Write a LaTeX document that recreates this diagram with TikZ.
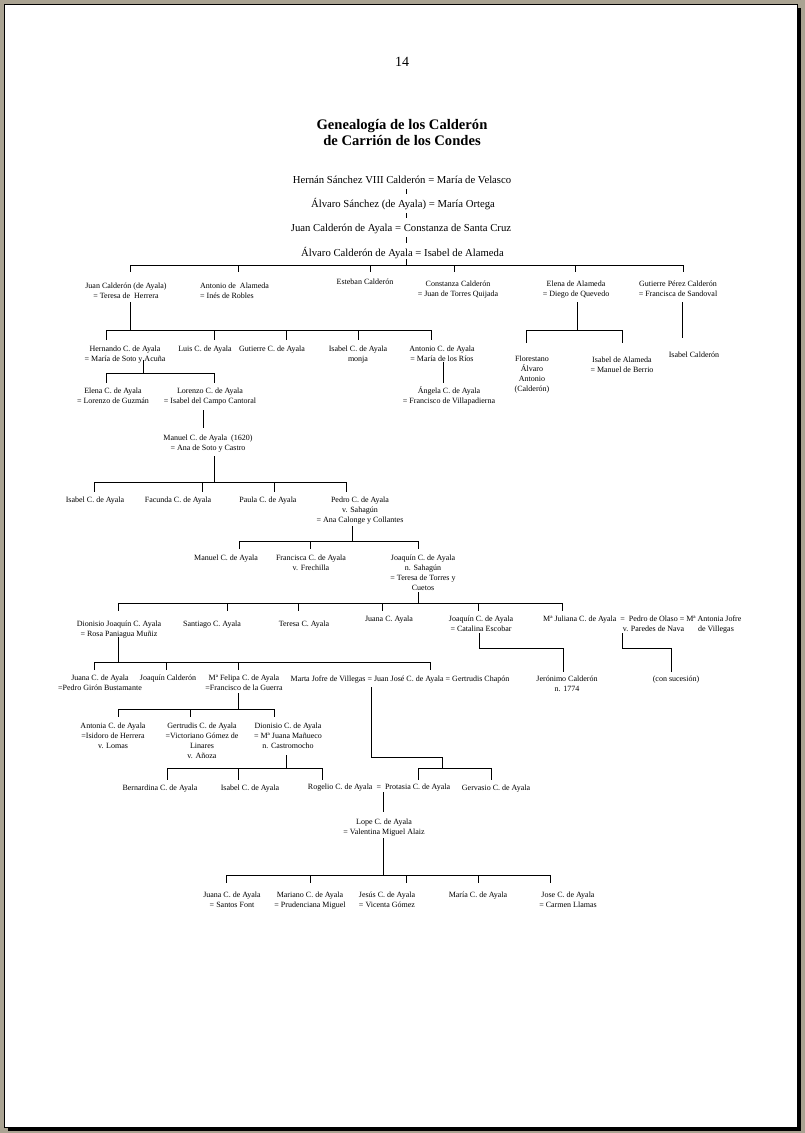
\documentclass[tikz,border=0pt]{standalone}
\usepackage{fontspec}
\setmainfont{Liberation Serif}
\newcommand\sfn{\fontsize{8}{10}\selectfont}
\newcommand\bfn{\fontsize{10.7}{13}\selectfont}
\newcommand\tfn{\fontsize{14.6}{16}\selectfont}
\newcommand\pfn{\fontsize{14}{16}\selectfont}
\definecolor{bgc}{RGB}{170,163,146}
\begin{document}
\begin{tikzpicture}[x=1pt,y=-1pt,
  ln/.style={line width=0.8pt, black},
  p/.style={font=\sfn, align=center, inner sep=0pt, anchor=north, execute at begin node=\strut},
  m/.style={p, yshift=-2pt},
  pl/.style={p, align=left, anchor=north west},
  big/.style={font=\bfn, inner sep=0pt, anchor=base},
  ttl/.style={font=\tfn\bfseries, inner sep=0pt, anchor=base}]
\useasboundingbox (0,0) rectangle (805,1133);
% page
\fill[bgc] (0,0) rectangle (805,1133);
\fill[black] (8,8) rectangle (801,1131);
\filldraw[fill=white, draw=black, line width=1pt] (4,4) rectangle (797,1127);
% header
\node[font=\pfn, inner sep=0pt, anchor=base] (pnum) at (402,66) {14};
\node[ttl] (title1) at (402,129.5) {Genealogía de los Calderón};
\node[ttl] (title2) at (402,145.5) {de Carrión de los Condes};
% main line
\node[big] (t1) at (402,183.5) {Hernán Sánchez VIII Calderón = María de Velasco};
\node[big] (t2) at (403,207.5) {Álvaro Sánchez (de Ayala) = María Ortega};
\node[big] (t3) at (401,231.5) {Juan Calderón de Ayala = Constanza de Santa Cruz};
\node[big] (t4) at (402.5,256.5) {Álvaro Calderón de Ayala = Isabel de Alameda};
% level 1
\node[m] (juan) at (126,281) {Juan Calderón (de Ayala)\\= Teresa de\ \ Herrera};
\node[pl, yshift=-2pt] (antonio) at (200,281) {Antonio de\ \ Alameda\\= Inés de Robles};
\node[p] (esteban) at (365,277) {Esteban Calderón};
\node[m] (constanza) at (458,279) {Constanza Calderón\\= Juan de Torres Quijada};
\node[m] (elena) at (576,279) {Elena de Alameda\\= Diego de Quevedo};
\node[m] (gutierre) at (678,279) {Gutierre Pérez Calderón\\= Francisca de Sandoval};
% level 2
\node[m] (hernando) at (125,344) {Hernando C. de Ayala\\= María de Soto y Acuña};
\node[p] (luis) at (205,344) {Luis C. de Ayala};
\node[p] (gutierre2) at (272,344) {Gutierre C. de Ayala};
\node[m] (isabel2) at (358,344) {Isabel C. de Ayala\\monja};
\node[m] (antonio2) at (442,344) {Antonio C. de Ayala\\= María de los Ríos};
\node[m] (florestano) at (532,354) {Florestano\\Álvaro\\Antonio\\(Calderón)};
\node[m] (isabelA) at (622,355) {Isabel de Alameda\\= Manuel de Berrio};
\node[p] (isabelC) at (694,350) {Isabel Calderón};
\node[p] (angela) at (449,386) {Ángela C. de Ayala\\= Francisco de Villapadierna};
\node[m] (elenaC) at (113,386) {Elena C. de Ayala\\= Lorenzo de Guzmán};
\node[m] (lorenzo) at (210,386) {Lorenzo C. de Ayala\\= Isabel del Campo Cantoral};
\node[m] (manuel) at (208,433) {Manuel C. de Ayala\ \ (1620)\\= Ana de Soto y Castro};
\node[p] (isabel3) at (95,495) {Isabel C. de Ayala};
\node[p] (facunda) at (178,495) {Facunda C. de Ayala};
\node[p] (paula) at (268,495) {Paula C. de Ayala};
\node[m] (pedro) at (360,495) {Pedro C. de Ayala\\v. Sahagún\\= Ana Calonge y Collantes};
\node[p] (manuel2) at (226,553) {Manuel C. de Ayala};
\node[m] (francisca) at (311,553) {Francisca C. de Ayala\\v. Frechilla};
\node[m] (joaquin) at (423,553) {Joaquín C. de Ayala\\n. Sahagún\\= Teresa de Torres y\\Cuetos};
\node[m] (dionisio) at (119,619) {Dionisio Joaquín C. Ayala\\= Rosa Paniagua Muñiz};
\node[p] (santiago) at (212,619) {Santiago C. Ayala};
\node[p] (teresa) at (304,619) {Teresa C. Ayala};
\node[p] (juana) at (389,614) {Juana C. Ayala};
\node[m] (joaquin2) at (481,614) {Joaquín C. de Ayala\\= Catalina Escobar};
\node[pl] (juliana) at (543,614) {Mª Juliana C. de Ayala\ \ =\ \ Pedro de Olaso = Mª Antonia Jofre};
\node[p] (olaso) at (653.5,624) {v. Paredes de Nava};
\node[p] (villegas) at (716,624) {de Villegas};
\node[m] (jeronimo) at (567,674) {Jerónimo Calderón\\n. 1774};
\node[p] (consuc) at (676,674) {(con sucesión)};
\node[m] (juana2) at (100,673) {Juana C. de Ayala\\=Pedro Girón Bustamante};
\node[p] (joaquinCal) at (168,673) {Joaquín Calderón};
\node[m] (felipa) at (244,673) {Mª Felipa C. de Ayala\\=Francisco de la Guerra};
\node[p] (juanjose) at (400,674) {Marta Jofre de Villegas = Juan José C. de Ayala = Gertrudis Chapón};
\node[m] (antonia2) at (113,721) {Antonia C. de Ayala\\=Isidoro de Herrera\\v. Lomas};
\node[m] (gertrudis) at (202,721) {Gertrudis C. de Ayala\\=Victoriano Gómez de\\Linares\\v. Añoza};
\node[m] (dionisio2) at (288,721) {Dionisio C. de Ayala\\= Mª Juana Mañueco\\n. Castromocho};
\node[p] (bernardina) at (160,783) {Bernardina C. de Ayala};
\node[p] (isabel4) at (250,783) {Isabel C. de Ayala};
\node[p] (rogelio) at (379,782) {Rogelio C. de Ayala\ \ =\ \ Protasia C. de Ayala};
\node[p] (gervasio) at (496,783) {Gervasio C. de Ayala};
\node[m] (lope) at (384,817) {Lope C. de Ayala\\= Valentina Miguel Alaiz};
\node[m] (juana3) at (232,890) {Juana C. de Ayala\\= Santos Font};
\node[m] (mariano) at (310,890) {Mariano C. de Ayala\\= Prudenciana Miguel};
\node[m] (jesus) at (387,890) {Jesús C. de Ayala\\= Vicenta Gómez};
\node[p] (maria) at (478,890) {María C. de Ayala};
\node[m] (jose) at (568,890) {Jose C. de Ayala\\= Carmen Llamas};
% ---- connectors ----
% main line ticks
\coordinate (k1a) at (406,189); \coordinate (k1b) at (406,194);
\coordinate (k2a) at (406,213); \coordinate (k2b) at (406,218);
\coordinate (k3a) at (406,237); \coordinate (k3b) at (406,243);
\coordinate (k4a) at (406,259);
\draw[ln] (k1a) -- (k1b); \draw[ln] (k2a) -- (k2b); \draw[ln] (k3a) -- (k3b);
% level 1
\coordinate (b1) at (0,265);
\coordinate (juan-in) at (130,272); \coordinate (antonio-in) at (238,272);
\coordinate (esteban-in) at (370,272); \coordinate (constanza-in) at (454,272);
\coordinate (elena-in) at (575,272); \coordinate (gutierre-in) at (683,272);
\draw[ln] (k4a) -- (k4a |- b1);
\draw[ln] (juan-in |- b1) -- (gutierre-in |- b1);
\foreach \c in {juan,antonio,esteban,constanza,elena,gutierre} \draw[ln] (\c-in |- b1) -- (\c-in);
% Juan's children
\coordinate (juan-out) at (130,302); \coordinate (b2) at (0,330);
\coordinate (hernando-in) at (106,340); \coordinate (luis-in) at (214,340);
\coordinate (gutierre2-in) at (286,340); \coordinate (isabel2-in) at (358,340);
\coordinate (antonio2-in) at (431,340);
\draw[ln] (juan-out) -- (juan-out |- b2);
\draw[ln] (hernando-in |- b2) -- (antonio2-in |- b2);
\foreach \c in {hernando,luis,gutierre2,isabel2,antonio2} \draw[ln] (\c-in |- b2) -- (\c-in);
% Elena's children
\coordinate (elena-out) at (577,302);
\coordinate (florestano-in) at (526,343); \coordinate (isabelA-in) at (622,343);
\draw[ln] (elena-out) -- (elena-out |- b2);
\draw[ln] (florestano-in |- b2) -- (isabelA-in |- b2);
\foreach \c in {florestano,isabelA} \draw[ln] (\c-in |- b2) -- (\c-in);
% Gutierre
\coordinate (gutierre-out) at (682,302); \coordinate (isabelC-in) at (682,338);
\draw[ln] (gutierre-out) -- (isabelC-in);
% Antonio C.
\coordinate (antonio2-out) at (443,362); \coordinate (angela-in) at (443,383);
\draw[ln] (antonio2-out) -- (angela-in);
% Hernando
\coordinate (hernando-out) at (143,360); \coordinate (b3) at (0,373);
\coordinate (elenaC-in) at (106,383); \coordinate (lorenzo-in) at (214,383);
\draw[ln] (hernando-out) -- (hernando-out |- b3);
\draw[ln] (elenaC-in |- b3) -- (lorenzo-in |- b3);
\foreach \c in {elenaC,lorenzo} \draw[ln] (\c-in |- b3) -- (\c-in);
% Lorenzo
\coordinate (lorenzo-out) at (203,410); \coordinate (manuel-in) at (203,428);
\draw[ln] (lorenzo-out) -- (manuel-in);
% Manuel
\coordinate (manuel-out) at (214,456); \coordinate (b4) at (0,482);
\coordinate (isabel3-in) at (94,492); \coordinate (facunda-in) at (202,492);
\coordinate (paula-in) at (274,492); \coordinate (pedro-in) at (346,492);
\draw[ln] (manuel-out) -- (manuel-out |- b4);
\draw[ln] (isabel3-in |- b4) -- (pedro-in |- b4);
\foreach \c in {isabel3,facunda,paula,pedro} \draw[ln] (\c-in |- b4) -- (\c-in);
% Pedro
\coordinate (pedro-out) at (352,526); \coordinate (b5) at (0,541);
\coordinate (manuel2-in) at (239,549); \coordinate (francisca-in) at (310,549);
\coordinate (joaquin-in) at (418,549);
\draw[ln] (pedro-out) -- (pedro-out |- b5);
\draw[ln] (manuel2-in |- b5) -- (joaquin-in |- b5);
\foreach \c in {manuel2,francisca,joaquin} \draw[ln] (\c-in |- b5) -- (\c-in);
% Joaquin
\coordinate (joaquin-out) at (418,592); \coordinate (b6) at (0,603);
\coordinate (dionisio-in) at (118,611); \coordinate (santiago-in) at (227,611);
\coordinate (teresa-in) at (298,611); \coordinate (juana-in) at (382,611);
\coordinate (joaquin2-in) at (478,611); \coordinate (juliana-in) at (562,611);
\draw[ln] (joaquin-out) -- (joaquin-out |- b6);
\draw[ln] (dionisio-in |- b6) -- (juliana-in |- b6);
\foreach \c in {dionisio,santiago,teresa,juana,joaquin2,juliana} \draw[ln] (\c-in |- b6) -- (\c-in);
% Joaquin2 -> Jeronimo, Juliana -> con sucesion
\coordinate (joaquin2-out) at (479,633); \coordinate (jeronimo-in) at (563,672);
\coordinate (juliana-out) at (622,633); \coordinate (consuc-in) at (671,672);
\coordinate (b7) at (0,648);
\draw[ln] (joaquin2-out) |- (jeronimo-in |- b7) -- (jeronimo-in);
\draw[ln] (juliana-out) |- (consuc-in |- b7) -- (consuc-in);
% Dionisio
\coordinate (dionisio-out) at (118,637); \coordinate (b8) at (0,662);
\coordinate (juana2-in) at (94,670); \coordinate (joaquinCal-in) at (166,670);
\coordinate (felipa-in) at (238,670); \coordinate (juanjose-in) at (430,670);
\draw[ln] (dionisio-out) -- (dionisio-out |- b8);
\draw[ln] (juana2-in |- b8) -- (juanjose-in |- b8);
\foreach \c in {juana2,joaquinCal,felipa,juanjose} \draw[ln] (\c-in |- b8) -- (\c-in);
% Felipa
\coordinate (felipa-out) at (238,693); \coordinate (b9) at (0,709);
\coordinate (antonia2-in) at (118,717); \coordinate (gertrudis-in) at (190,717);
\coordinate (dionisio2-in) at (274,717);
\draw[ln] (felipa-out) -- (felipa-out |- b9);
\draw[ln] (antonia2-in |- b9) -- (dionisio2-in |- b9);
\foreach \c in {antonia2,gertrudis,dionisio2} \draw[ln] (\c-in |- b9) -- (\c-in);
% Dionisio2
\coordinate (dionisio2-out) at (286,755); \coordinate (b10) at (0,768);
\coordinate (bernardina-in) at (167,780); \coordinate (isabel4-in) at (238,780);
\coordinate (rogelio-in) at (322,780);
\draw[ln] (dionisio2-out) -- (dionisio2-out |- b10);
\draw[ln] (bernardina-in |- b10) -- (rogelio-in |- b10);
\foreach \c in {bernardina,isabel4,rogelio} \draw[ln] (\c-in |- b10) -- (\c-in);
% Juan Jose
\coordinate (juanjose-out) at (371,687); \coordinate (jj-mid) at (442,757);
\coordinate (protasia-in) at (418,780); \coordinate (gervasio-in) at (491,780);
\draw[ln] (juanjose-out) |- (jj-mid) -- (jj-mid |- b10);
\draw[ln] (protasia-in |- b10) -- (gervasio-in |- b10);
\foreach \c in {protasia,gervasio} \draw[ln] (\c-in |- b10) -- (\c-in);
% Rogelio = Protasia
\coordinate (rogelio-out) at (383,792); \coordinate (lope-in) at (383,812);
\draw[ln] (rogelio-out) -- (lope-in);
% Lope
\coordinate (lope-out) at (383,838); \coordinate (b11) at (0,875);
\coordinate (juana3-in) at (226,883); \coordinate (mariano-in) at (310,883);
\coordinate (jesus-in) at (406,883); \coordinate (maria-in) at (478,883);
\coordinate (jose-in) at (550,883);
\draw[ln] (lope-out) -- (lope-out |- b11);
\draw[ln] (juana3-in |- b11) -- (jose-in |- b11);
\foreach \c in {juana3,mariano,jesus,maria,jose} \draw[ln] (\c-in |- b11) -- (\c-in);
\end{tikzpicture}
\end{document}
